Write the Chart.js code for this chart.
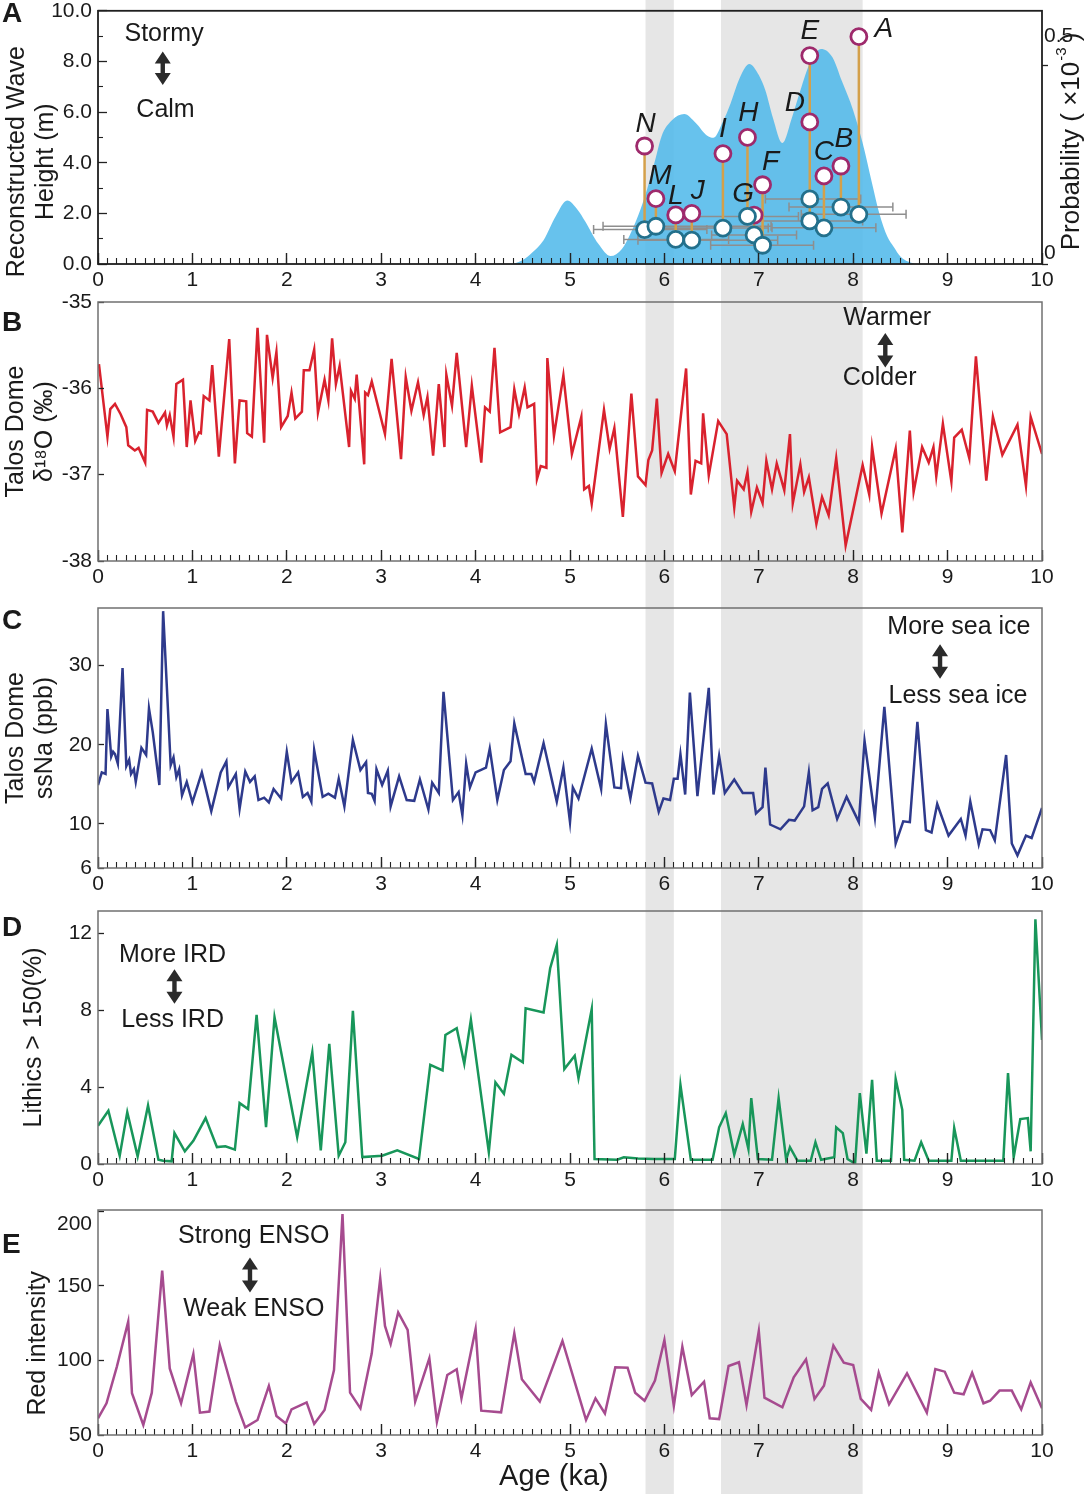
<!DOCTYPE html>
<html>
<head>
<meta charset="utf-8">
<title>Holocene storm record</title>
<script src="https://cdn.jsdelivr.net/npm/chart.js@4.4.1/dist/chart.umd.min.js"></script>
<style>
  html, body { margin: 0; padding: 0; background: #fff; }
  #page { position: relative; width: 1084px; height: 1494px; overflow: hidden; }
  .panel { position: absolute; left: 0; width: 1084px; }
  .tag { position: absolute; left: 2px; line-height: 32px; font: bold 28px "Liberation Sans", Arial, sans-serif; color: #1a1a1a; }
</style>
</head>
<body>
<div id="page">
  <div class="panel" style="top:0;height:292px"><canvas id="chartA"></canvas></div>
  <div class="panel" style="top:292px;height:302px"><canvas id="chartB"></canvas></div>
  <div class="panel" style="top:594px;height:304px"><canvas id="chartC"></canvas></div>
  <div class="panel" style="top:898px;height:298px"><canvas id="chartD"></canvas></div>
  <div class="panel" style="top:1196px;height:298px"><canvas id="chartE"></canvas></div>
  <div class="tag" style="top:-3px">A</div>
  <div class="tag" style="top:306px">B</div>
  <div class="tag" style="top:604px">C</div>
  <div class="tag" style="top:911px">D</div>
  <div class="tag" style="top:1228px">E</div>
</div>
<script>
// ---- shared axis data ----
const ageTicks = [0, 1, 2, 3, 4, 5, 6, 7, 8, 9, 10];
const grayBands = [[5.8, 6.1], [6.6, 8.1]];

// ---- A: reconstructed wave heights + probability density ----
const densAge = [4.40,4.50,4.60,4.72,4.85,4.97,5.08,5.16,5.30,5.43,5.55,5.64,5.75,5.82,5.90,5.97,6.08,6.21,6.33,6.45,6.52,6.62,6.70,6.80,6.90,7.00,7.07,7.15,7.25,7.35,7.44,7.55,7.66,7.78,7.88,8.00,8.10,8.20,8.28,8.36,8.43,8.50,8.58,8.65];
const densProb = [0,0.010,0.029,0.060,0.121,0.160,0.137,0.108,0.051,0.020,0.038,0.076,0.140,0.191,0.260,0.322,0.362,0.378,0.356,0.324,0.318,0.359,0.404,0.470,0.504,0.476,0.437,0.368,0.305,0.368,0.437,0.511,0.542,0.521,0.461,0.387,0.305,0.203,0.125,0.070,0.043,0.019,0.006,0];
const waveTicks = [0, 2, 4, 6, 8, 10];
const waveMinorTicks = [1, 3, 5, 7, 9];
const probTicks = [0, 0.5];

const sampleLetters = ['N','M','L','J','I','H','G','F','E','D','C','B','A'];
const sampleAge = [5.79, 5.91, 6.12, 6.29, 6.62, 6.88, 6.95, 7.04, 7.54, 7.54, 7.69, 7.87, 8.06];
const waveUpper = [4.66, 2.58, 1.94, 2.00, 4.36, 5.00, 1.93, 3.13, 8.23, 5.61, 3.48, 3.87, 8.98];
const waveLower = [1.36, 1.49, 0.97, 0.94, 1.42, 1.88, 1.15, 0.74, 2.57, 1.70, 1.43, 2.25, 1.96];
const ageErrLo = [5.25, 5.35, 5.57, 5.72, 5.90, 6.35, 6.50, 6.49, 7.07, 6.95, 7.14, 7.32, 7.45];
const ageErrHi = [6.45, 7.13, 6.68, 7.20, 7.10, 7.42, 7.40, 7.58, 8.08, 8.10, 8.24, 8.42, 8.56];

// ---- B: Talos Dome d18O ----
const bAge = [0.01,0.10,0.13,0.18,0.24,0.30,0.32,0.39,0.43,0.50,0.52,0.58,0.64,0.71,0.73,0.76,0.80,0.83,0.90,0.94,0.98,1.03,1.07,1.09,1.12,1.18,1.21,1.28,1.39,1.45,1.50,1.57,1.58,1.63,1.69,1.76,1.79,1.85,1.89,1.94,2.01,2.05,2.09,2.16,2.18,2.24,2.29,2.33,2.40,2.44,2.48,2.52,2.56,2.66,2.68,2.72,2.74,2.82,2.83,2.86,2.90,3.04,3.11,3.21,3.26,3.32,3.39,3.45,3.49,3.55,3.61,3.67,3.69,3.75,3.80,3.90,3.96,4.06,4.10,4.15,4.20,4.26,4.37,4.41,4.46,4.52,4.55,4.62,4.65,4.69,4.75,4.76,4.83,4.93,5.02,5.12,5.15,5.20,5.23,5.36,5.42,5.47,5.56,5.65,5.72,5.80,5.83,5.87,5.92,5.97,6.04,6.11,6.23,6.28,6.33,6.39,6.41,6.47,6.57,6.66,6.74,6.77,6.84,6.88,6.92,6.98,7.04,7.08,7.14,7.19,7.27,7.33,7.36,7.44,7.48,7.53,7.61,7.67,7.74,7.82,7.92,8.10,8.17,8.20,8.30,8.45,8.52,8.60,8.64,8.73,8.80,8.85,8.88,8.95,9.04,9.07,9.15,9.23,9.30,9.41,9.48,9.58,9.74,9.83,9.88,10.0];
const bD18O = [-35.72,-36.56,-36.24,-36.18,-36.30,-36.45,-36.66,-36.72,-36.69,-36.86,-36.25,-36.27,-36.40,-36.28,-36.43,-36.31,-36.56,-35.95,-35.90,-36.68,-36.14,-36.61,-36.51,-36.52,-36.09,-36.14,-35.73,-36.79,-35.43,-36.87,-36.14,-36.15,-36.52,-36.56,-35.30,-36.63,-35.38,-35.88,-35.58,-36.45,-36.32,-36.05,-36.35,-36.27,-35.79,-35.79,-35.55,-36.28,-35.90,-36.14,-35.42,-35.95,-35.74,-36.68,-36.03,-36.12,-35.84,-36.88,-36.05,-36.08,-35.92,-36.53,-35.66,-36.82,-35.87,-36.26,-35.93,-36.31,-36.10,-36.78,-35.95,-36.68,-35.84,-36.20,-35.59,-36.68,-35.97,-36.86,-36.22,-36.27,-35.53,-36.51,-36.45,-36.01,-36.30,-35.99,-36.22,-36.18,-37.05,-36.90,-36.92,-35.65,-36.55,-35.85,-36.76,-36.33,-37.17,-37.13,-37.34,-36.25,-36.70,-36.46,-37.49,-36.06,-37.02,-37.12,-36.83,-36.72,-36.12,-36.98,-36.76,-36.96,-35.77,-37.23,-36.84,-36.87,-36.29,-37.01,-36.38,-36.53,-37.38,-37.07,-37.17,-36.97,-37.43,-37.15,-37.33,-36.84,-37.17,-36.87,-37.18,-36.53,-37.33,-36.88,-37.20,-37.03,-37.57,-37.26,-37.47,-36.81,-37.82,-36.89,-37.23,-36.68,-37.45,-36.70,-37.67,-36.49,-37.20,-36.68,-36.86,-36.68,-37.02,-36.41,-37.08,-36.57,-36.48,-36.81,-35.63,-37.07,-36.33,-36.77,-36.42,-37.13,-36.33,-36.76];
const bTicks = [-38, -37, -36, -35];

// ---- C: Talos Dome ssNa ----
const cAge = [0.00,0.04,0.08,0.10,0.14,0.16,0.18,0.21,0.26,0.30,0.33,0.35,0.38,0.40,0.46,0.51,0.54,0.58,0.65,0.69,0.77,0.80,0.83,0.86,0.89,0.94,1.00,1.10,1.20,1.30,1.36,1.38,1.46,1.50,1.56,1.61,1.66,1.70,1.76,1.81,1.86,1.94,2.00,2.05,2.12,2.17,2.22,2.26,2.29,2.38,2.44,2.51,2.55,2.61,2.70,2.78,2.84,2.86,2.90,2.93,2.95,3.01,3.07,3.10,3.19,3.27,3.35,3.41,3.50,3.54,3.61,3.66,3.76,3.82,3.86,3.90,3.94,4.00,4.11,4.15,4.23,4.30,4.37,4.41,4.53,4.59,4.62,4.72,4.86,4.93,5.00,5.03,5.09,5.23,5.33,5.38,5.47,5.54,5.56,5.64,5.72,5.80,5.87,5.94,5.99,6.06,6.10,6.14,6.17,6.22,6.27,6.35,6.47,6.52,6.58,6.64,6.74,6.83,6.94,6.97,7.04,7.07,7.12,7.23,7.32,7.38,7.48,7.53,7.57,7.63,7.67,7.73,7.83,7.93,8.06,8.12,8.23,8.33,8.45,8.53,8.60,8.68,8.77,8.83,8.89,9.01,9.14,9.19,9.24,9.33,9.37,9.45,9.50,9.62,9.68,9.74,9.83,9.89,10.0];
const cSsNa = [14.9,16.5,16.3,24.5,18.5,19.1,18.8,17.6,29.7,17.3,18.1,16.3,16.9,15.3,19.6,18.7,24.6,21.6,14.9,36.9,17.4,18.4,15.9,16.9,13.6,15.3,12.7,16.5,11.6,16.5,17.9,14.6,16.3,11.9,16.6,15.3,16.0,13.0,13.3,12.7,14.4,13.2,19.1,15.3,16.5,13.4,13.9,12.8,19.3,13.4,13.8,13.3,15.7,12.2,20.6,16.8,17.8,13.9,13.8,12.9,16.9,14.9,16.7,12.2,16.0,13.0,12.9,15.6,11.8,15.2,13.9,26.7,13.0,14.0,11.1,17.6,14.6,16.5,17.1,19.5,13.0,16.8,17.9,22.7,16.3,16.3,15.3,20.2,12.8,17.1,10.2,14.6,13.2,19.5,14.4,22.6,14.6,14.5,18.1,13.2,18.6,15.2,15.1,11.5,13.2,13.0,15.7,15.7,18.8,13.7,26.6,13.5,27.2,13.7,18.6,13.9,15.6,13.9,13.9,11.3,12.1,17.1,9.9,9.3,10.5,10.4,12.2,16.5,11.7,12.1,14.4,15.1,10.6,13.4,10.2,20.5,10.8,24.8,7.5,10.3,10.2,22.9,9.2,8.9,12.5,8.5,10.6,8.5,12.8,7.4,9.3,9.2,7.9,18.7,7.5,6.0,8.5,8.2,12.0];
const cTicks = [10, 20, 30];
const cBottomLabel = '6';

// ---- D: lithics > 150 um ----
const dAge = [0.00,0.11,0.23,0.31,0.42,0.53,0.64,0.69,0.78,0.81,0.92,1.01,1.14,1.26,1.35,1.45,1.50,1.59,1.68,1.78,1.87,2.11,2.27,2.36,2.45,2.55,2.62,2.70,2.80,3.01,3.17,3.40,3.52,3.65,3.68,3.80,3.88,3.95,4.14,4.21,4.30,4.38,4.50,4.53,4.72,4.79,4.86,4.94,5.05,5.09,5.23,5.26,5.50,5.57,5.72,5.89,6.11,6.17,6.28,6.51,6.58,6.65,6.74,6.83,6.89,6.92,6.99,7.14,7.21,7.29,7.33,7.41,7.55,7.60,7.66,7.80,7.82,7.89,7.94,8.02,8.07,8.14,8.20,8.25,8.40,8.45,8.52,8.54,8.65,8.72,8.80,9.04,9.07,9.14,9.59,9.64,9.70,9.77,9.85,9.88,9.93,10.0];
const dLithics = [1.99,2.77,0.43,2.70,0.40,3.05,0.22,0.17,0.14,1.61,0.66,1.21,2.39,0.88,0.92,0.75,3.17,2.86,7.76,1.92,7.64,1.40,5.81,0.71,6.26,0.43,1.13,7.97,0.36,0.43,0.71,0.26,5.16,4.87,6.72,7.07,5.22,7.50,0.62,4.25,3.66,5.68,5.30,8.11,7.89,10.19,11.40,4.94,5.63,4.47,8.06,0.26,0.22,0.35,0.29,0.26,0.26,4.12,0.22,0.22,1.91,2.65,0.49,2.08,0.78,3.43,0.26,0.22,3.43,0.22,0.88,0.17,0.17,1.13,0.22,0.35,1.91,1.61,0.26,0.02,3.69,0.54,4.38,0.17,0.17,4.42,2.82,0.22,0.17,1.13,0.17,0.17,1.87,0.17,0.17,4.73,0.35,2.34,2.39,0.66,12.74,6.46];
const dTicks = [0, 4, 8, 12];

// ---- E: red intensity (ENSO) ----
const eAge = [0.00,0.09,0.20,0.32,0.36,0.48,0.57,0.68,0.76,0.88,1.01,1.08,1.18,1.29,1.46,1.56,1.69,1.81,1.89,1.99,2.05,2.21,2.29,2.40,2.50,2.59,2.67,2.78,2.90,2.99,3.04,3.10,3.18,3.28,3.36,3.51,3.59,3.70,3.80,3.85,4.00,4.06,4.27,4.41,4.49,4.68,4.92,5.17,5.27,5.37,5.48,5.61,5.69,5.79,5.90,6.00,6.10,6.19,6.29,6.42,6.48,6.58,6.68,6.79,6.87,7.00,7.06,7.25,7.37,7.50,7.59,7.69,7.79,7.90,8.00,8.08,8.19,8.27,8.38,8.57,8.78,8.87,8.97,9.07,9.17,9.26,9.38,9.45,9.55,9.68,9.78,9.88,10.0];
const eRed = [61.2,71.3,95.9,126.1,78.0,56.7,78.4,160.3,94.7,71.3,104.4,65.0,65.7,110.4,72.4,55.1,60.1,82.9,62.8,57.8,67.2,71.9,57.4,66.8,93.6,198.3,78.4,67.9,104.8,155.1,123.2,111.1,132.3,120.5,72.4,101.5,58.9,90.3,94.1,74.6,121.1,66.3,65.2,118.2,87.4,72.4,113.1,60.1,74.6,64.5,95.4,95.2,78.4,73.0,86.5,113.8,69.5,109.3,76.8,85.8,61.2,60.7,96.3,98.8,70.1,119.8,75.1,68.6,88.7,100.8,74.2,83.1,110.0,98.5,97.0,74.2,66.8,91.8,70.6,91.4,65.0,94.3,92.5,78.4,77.3,91.8,71.3,73.0,79.8,79.8,67.2,85.3,67.9];
const eTicks = [50, 100, 150, 200];

// ============================================
const FONT = '"Liberation Sans", Arial, Helvetica, sans-serif';
const TXT = '#1a1a1a';
const tickFont = { family: FONT, size: 21 };
const NB = '\u00a0';

const pts = (xs, ys) => xs.map((x, i) => ({ x, y: ys[i] }));
const fixedTicks = list => s => { s.ticks = list.map(v => ({ value: v })); };

// ---- Plugins ----
const bandsPlugin = {
  id: 'bands',
  beforeDraw(chart) {
    const { ctx } = chart;
    const x = chart.scales.x;
    ctx.save();
    ctx.fillStyle = '#e6e6e6';
    grayBands.forEach(([a, b]) => {
      const p1 = x.getPixelForValue(a), p2 = x.getPixelForValue(b);
      ctx.fillRect(p1, 0, p2 - p1, chart.height);
    });
    ctx.restore();
  }
};

function framePlugin(color, width) {
  return {
    id: 'frame',
    afterDraw(chart) {
      const { ctx, chartArea: a } = chart;
      ctx.save();
      ctx.strokeStyle = color;
      ctx.lineWidth = width;
      ctx.strokeRect(a.left, a.top, a.right - a.left, a.bottom - a.top);
      ctx.restore();
    }
  };
}

function drawDoubleArrow(ctx, cx, top, bottom) {
  const head = 12, hw = 8, sw = 2.2;
  ctx.beginPath();
  ctx.moveTo(cx, top);
  ctx.lineTo(cx + hw, top + head);
  ctx.lineTo(cx + sw, top + head);
  ctx.lineTo(cx + sw, bottom - head);
  ctx.lineTo(cx + hw, bottom - head);
  ctx.lineTo(cx, bottom);
  ctx.lineTo(cx - hw, bottom - head);
  ctx.lineTo(cx - sw, bottom - head);
  ctx.lineTo(cx - sw, top + head);
  ctx.lineTo(cx - hw, top + head);
  ctx.closePath();
  ctx.fill();
}

// notes are placed in data units of the panel (age, y value)
function notesPlugin(axisId, texts, arrows) {
  return {
    id: 'notes',
    afterDraw(chart) {
      const { ctx } = chart;
      const x = chart.scales.x, y = chart.scales[axisId];
      ctx.save();
      ctx.fillStyle = TXT;
      ctx.font = '25px ' + FONT;
      ctx.textAlign = 'center';
      ctx.textBaseline = 'middle';
      texts.forEach(t => ctx.fillText(t.text, x.getPixelForValue(t.x), y.getPixelForValue(t.y)));
      ctx.fillStyle = '#2b2b2b';
      arrows.forEach(a => drawDoubleArrow(ctx, x.getPixelForValue(a.x), y.getPixelForValue(a.y1), y.getPixelForValue(a.y2)));
      ctx.restore();
    }
  };
}

const letterOffsets = {
  N: [1, -22], M: [4, -22], L: [0, -19], J: [6, -22], I: [0, -24], H: [1, -24], G: [-11, -21],
  F: [8, -23], E: [0, -24], D: [-15, -19], C: [0, -24], B: [3, -27], A: [25, -7]
};
const letterPlugin = {
  id: 'letters',
  afterDatasetsDraw(chart) {
    const { ctx } = chart;
    const x = chart.scales.x, y = chart.scales.y;
    ctx.save();
    ctx.font = 'italic 28px ' + FONT;
    ctx.fillStyle = TXT;
    ctx.textAlign = 'center';
    ctx.textBaseline = 'middle';
    sampleLetters.forEach((t, i) => {
      const [dx, dy] = letterOffsets[t];
      ctx.fillText(t, x.getPixelForValue(sampleAge[i]) + dx, y.getPixelForValue(waveUpper[i]) + dy);
    });
    ctx.restore();
  }
};

// right-hand title reads bottom to top, with a superscript exponent
const probTitlePlugin = {
  id: 'probTitle',
  afterDraw(chart) {
    const { ctx, chartArea } = chart;
    const s = chart.scales.y2;
    const main = 'Probability ( ×10', sup = '-3', tail = ' )';
    ctx.save();
    ctx.translate(s.left + 30, (chartArea.top + chartArea.bottom) / 2 + 4);
    ctx.rotate(-Math.PI / 2);
    ctx.fillStyle = TXT;
    ctx.textAlign = 'left';
    ctx.textBaseline = 'middle';
    ctx.font = '26px ' + FONT;
    const w1 = ctx.measureText(main).width, w3 = ctx.measureText(tail).width;
    ctx.font = '15px ' + FONT;
    const w2 = ctx.measureText(sup).width;
    const x0 = -(w1 + w2 + w3) / 2;
    ctx.font = '26px ' + FONT;
    ctx.fillText(main, x0, 0);
    ctx.fillText(tail, x0 + w1 + w2, 0);
    ctx.font = '15px ' + FONT;
    ctx.fillText(sup, x0 + w1 + 1, -10);
    ctx.restore();
  }
};

// ---- Axis helpers ----
function ageScales(axisHeight, title) {
  return {
    x: {
      type: 'linear', position: 'bottom', min: 0, max: 10, weight: 1,
      afterBuildTicks: fixedTicks(ageTicks),
      afterFit: s => { s.height = axisHeight; s.paddingLeft = 0; s.paddingRight = 0; },
      border: { display: false },
      grid: { drawOnChartArea: false, tickLength: -11, tickColor: '#222', tickWidth: 1.4, z: 1 },
      ticks: { padding: 15, maxRotation: 0, autoSkip: false, color: TXT, font: tickFont },
      title: title
        ? { display: true, text: title, color: TXT, font: { family: FONT, size: 29 }, padding: { top: 0, bottom: 0 } }
        : { display: false }
    },
    xMinor: {
      type: 'linear', position: 'bottom', min: 0, max: 10, weight: 0,
      afterFit: s => { s.height = 0; s.paddingLeft = 0; s.paddingRight = 0; },
      border: { display: false },
      grid: { drawOnChartArea: false, tickLength: -6, tickColor: '#222', tickWidth: 1.1, z: 1 },
      ticks: { display: false, stepSize: 0.1, maxTicksLimit: 200 }
    }
  };
}

function leftAxis(min, max, ticks, titleText, titlePad, tickLen, callback) {
  return {
    type: 'linear', position: 'left', min, max, weight: 1,
    afterBuildTicks: typeof ticks === 'function' ? ticks : fixedTicks(ticks),
    afterFit: s => { s.width = 98; s.paddingTop = 0; s.paddingBottom = 0; },
    border: { display: false },
    grid: { drawOnChartArea: false, tickLength: -tickLen, tickColor: '#222', tickWidth: 1.3, z: 1 },
    ticks: { padding: 6 + tickLen, color: TXT, font: tickFont, callback },
    title: {
      display: true, text: titleText, color: TXT,
      font: { family: FONT, size: 25, lineHeight: 1.14 },
      padding: { top: titlePad, bottom: 0 }
    }
  };
}

function seriesDataset(xs, ys, color) {
  return {
    data: pts(xs, ys), xAxisID: 'x', yAxisID: 'y',
    borderColor: color, borderWidth: 2.5, pointRadius: 0, tension: 0, fill: false
  };
}

function baseOptions(padTop, padRight, scales) {
  return {
    responsive: true,
    maintainAspectRatio: false,
    animation: false,
    locale: 'en-US',
    layout: { padding: { top: padTop, right: padRight, left: 0, bottom: 0 } },
    plugins: { legend: { display: false }, tooltip: { enabled: false } },
    scales
  };
}

// ---- Panel A ----
const errData = [], stemData = [];
sampleAge.forEach((a, i) => {
  errData.push({ x: ageErrLo[i], y: waveLower[i] }, { x: ageErrHi[i], y: waveLower[i] }, { x: ageErrHi[i], y: null });
  stemData.push({ x: a, y: waveUpper[i] }, { x: a, y: waveLower[i] }, { x: a, y: null });
});

new Chart(document.getElementById('chartA'), {
  type: 'line',
  data: {
    datasets: [
      { data: pts(sampleAge, waveLower), xAxisID: 'x', yAxisID: 'y', showLine: false, order: 0,
        pointRadius: 8, pointBorderWidth: 2.8, pointBackgroundColor: '#ffffff', pointBorderColor: '#23708c' },
      { data: pts(sampleAge, waveUpper), xAxisID: 'x', yAxisID: 'y', showLine: false, order: 1,
        pointRadius: 8, pointBorderWidth: 2.8, pointBackgroundColor: '#ffffff', pointBorderColor: '#9e2a6c' },
      { data: stemData, xAxisID: 'x', yAxisID: 'y', order: 2, spanGaps: false,
        borderColor: '#d4a04a', borderWidth: 2.5, pointRadius: 0 },
      { data: errData, xAxisID: 'x', yAxisID: 'y', order: 3, spanGaps: false,
        borderColor: '#8e8e8e', borderWidth: 1.5, pointStyle: 'line', pointRadius: 4.5, rotation: 90,
        pointBorderColor: '#8e8e8e', pointBorderWidth: 1.5 },
      { data: pts(densAge, densProb), xAxisID: 'x', yAxisID: 'y2', order: 4,
        fill: 'origin', backgroundColor: 'rgba(82,186,234,0.88)', borderWidth: 0, pointRadius: 0,
        cubicInterpolationMode: 'monotone' }
    ]
  },
  options: baseOptions(5, 0, {
    ...ageScales(28),
    y: leftAxis(0, 10, waveTicks,
      ['Reconstructed Wave' + NB.repeat(7), 'Height (m)' + NB.repeat(7)], 3, 9, v => v.toFixed(1)),
    yMinor: {
      type: 'linear', position: 'left', min: 0, max: 10, weight: 0,
      afterBuildTicks: fixedTicks(waveMinorTicks),
      afterFit: s => { s.width = 0; s.paddingTop = 0; s.paddingBottom = 0; },
      border: { display: false },
      grid: { drawOnChartArea: false, tickLength: -5, tickColor: '#222', tickWidth: 1.1, z: 1 },
      ticks: { display: false }
    },
    y2: {
      type: 'linear', position: 'right', min: 0, max: 0.638,
      afterBuildTicks: fixedTicks(probTicks),
      afterFit: s => { s.width = 42; s.paddingTop = 0; s.paddingBottom = 0; },
      border: { display: false },
      grid: { drawOnChartArea: false, tickLength: 6, tickColor: '#222', tickWidth: 1.3, z: 1 },
      // labels sit above their ticks; the upper one further up
      ticks: {
        padding: -4, labelOffset: -11, color: TXT, font: { family: FONT, size: 21, lineHeight: 1.72 },
        callback: v => (v === 0 ? '0' : [v.toFixed(1), ''])
      }
    }
  }),
  plugins: [
    bandsPlugin, letterPlugin, probTitlePlugin, framePlugin('#1f1f1f', 1.8),
    notesPlugin('y', [{ text: 'Stormy', x: 0.70, y: 9.06 }, { text: 'Calm', x: 0.715, y: 6.07 }],
      [{ x: 0.686, y1: 8.39, y2: 7.07 }])
  ]
});

// ---- Panel B ----
new Chart(document.getElementById('chartB'), {
  type: 'line',
  data: { datasets: [seriesDataset(bAge, bD18O, '#d9222e')] },
  options: baseOptions(10, 42, {
    ...ageScales(33),
    y: leftAxis(-38, -35, bTicks, ['Talos Dome', 'δ¹⁸O (‰)'], 2, 6)
  }),
  plugins: [
    bandsPlugin, framePlugin('#707070', 1.5),
    notesPlugin('y', [{ text: 'Warmer', x: 8.36, y: -35.19 }, { text: 'Colder', x: 8.28, y: -35.88 }],
      [{ x: 8.34, y1: -35.36, y2: -35.76 }])
  ]
});

// ---- Panel C ----
new Chart(document.getElementById('chartC'), {
  type: 'line',
  data: { datasets: [seriesDataset(cAge, cSsNa, '#2e3a8c')] },
  options: baseOptions(14, 42, {
    ...ageScales(30),
    y: leftAxis(4.4, 37.3,
      s => { s.ticks = [{ value: s.min }, ...cTicks.map(v => ({ value: v }))]; },
      ['Talos Dome', 'ssNa (ppb)'], 2, 6,
      (v, i) => (i === 0 ? cBottomLabel : String(v)))
  }),
  plugins: [
    bandsPlugin, framePlugin('#707070', 1.5),
    notesPlugin('y', [{ text: 'More sea ice', x: 9.12, y: 34.9 }, { text: 'Less sea ice', x: 9.11, y: 26.2 }],
      [{ x: 8.92, y1: 32.7, y2: 28.35 }])
  ]
});

// ---- Panel D ----
new Chart(document.getElementById('chartD'), {
  type: 'line',
  data: { datasets: [seriesDataset(dAge, dLithics, '#18965a')] },
  options: baseOptions(13, 42, {
    ...ageScales(32),
    y: leftAxis(0, 13.17, dTicks, 'Lithics > 150(%)', 20, 6)
  }),
  plugins: [
    bandsPlugin, framePlugin('#707070', 1.5),
    notesPlugin('y', [{ text: 'More IRD', x: 0.79, y: 10.88 }, { text: 'Less IRD', x: 0.79, y: 7.5 }],
      [{ x: 0.81, y1: 10.14, y2: 8.34 }])
  ]
});

// ---- Panel E ----
new Chart(document.getElementById('chartE'), {
  type: 'line',
  data: { datasets: [seriesDataset(eAge, eRed, '#a64b8f')] },
  options: baseOptions(14, 42, {
    ...ageScales(59, 'Age (ka)' + NB.repeat(4)),
    // the top label is drawn just below the frame
    y: leftAxis(50, 201, eTicks, 'Red intensity' + NB.repeat(6), 24, 6,
      v => (v === 200 ? ['', '200'] : String(v)))
  }),
  plugins: [
    bandsPlugin, framePlugin('#707070', 1.5),
    notesPlugin('y', [{ text: 'Strong ENSO', x: 1.65, y: 183.6 }, { text: 'Weak ENSO', x: 1.65, y: 134.3 }],
      [{ x: 1.61, y1: 169.2, y2: 145.7 }])
  ]
});
</script>
</body>
</html>
